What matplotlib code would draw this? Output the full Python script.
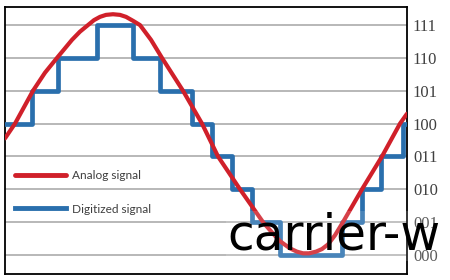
import matplotlib.pyplot as plt

# Digitized signal: step edges (time units) and the 3-bit level held in each step
step_edges = [0, 27, 53, 92, 128, 155, 187, 207, 227, 247, 275, 337, 357, 376, 398, 402]
step_levels = [4, 5, 6, 7, 6, 5, 4, 3, 2, 1, 0, 1, 2, 3, 4]

# Analog signal, points
analog_t = [0, 10, 28, 40, 52, 67, 75, 83, 89, 95, 101, 108, 115, 121, 128, 135, 146,
            157, 178, 197, 213, 235, 258, 268, 275, 285, 292, 298, 304, 311, 317, 323,
            330, 338, 357, 377, 395, 402]
analog_v = [3.55, 4.0, 5.0, 5.55, 6.0, 6.55, 6.8, 7.0, 7.15, 7.25, 7.31, 7.33, 7.31, 7.25,
            7.13, 7.0, 6.55, 6.0, 5.0, 4.0, 3.0, 2.0, 1.0, 0.65, 0.42, 0.2, 0.1, 0.05,
            0.05, 0.1, 0.18, 0.32, 0.6, 1.0, 2.0, 3.0, 4.0, 4.3]

level_labels = ['000', '001', '010', '011', '100', '101', '110', '111']

RED = '#d0202a'
BLUE = '#2a6fad'

fig = plt.figure(figsize=(4.5, 2.8), dpi=100)
ax = fig.add_axes([5 / 450, 6 / 280, 402 / 450, 267 / 280])

ax.step(step_edges, step_levels + [step_levels[-1]], where='post',
        color=BLUE, lw=3.4, label='Digitized signal', zorder=3)
ax.plot(analog_t, analog_v, color=RED, lw=3.0, label='Analog signal',
        solid_capstyle='round', solid_joinstyle='round', zorder=4)

ax.set_xlim(0, 402)
ax.set_ylim(-0.58, 7.55)
ax.set_xticks([])
ax.set_yticks(range(len(level_labels)))
ax.set_yticklabels(level_labels, family='Liberation Serif', fontsize=12, color='#404040')
ax.yaxis.tick_right()
ax.tick_params(axis='y', length=0, pad=4.3)
ax.grid(axis='y', color='#ababab', lw=1.2)
ax.set_axisbelow(True)
for s in ax.spines.values():
    s.set_linewidth(1.3)
    s.set_color('black')

# legend: analog first, then digitized
h, l = ax.get_legend_handles_labels()
leg = ax.legend([h[1], h[0]], [l[1], l[0]], loc='upper left', bbox_to_anchor=(0.025, 0.388),
                frameon=False, borderpad=0, borderaxespad=0, handlelength=4.3,
                handletextpad=0.45, labelspacing=1.85,
                prop={'family': 'Lato', 'size': 8.6})
for t in leg.get_texts():
    t.set_color('#404040')
for ln in leg.get_lines():
    ln.set_linewidth(3.5)

# watermark text over the picture
fig.text(227 / 450, 1 - 250 / 280, 'carrier-w', fontsize=35, color='black',
         va='baseline', ha='left',
         bbox=dict(facecolor='white', alpha=0.15, edgecolor='none', pad=1))

fig.savefig('out.png', dpi=100)
